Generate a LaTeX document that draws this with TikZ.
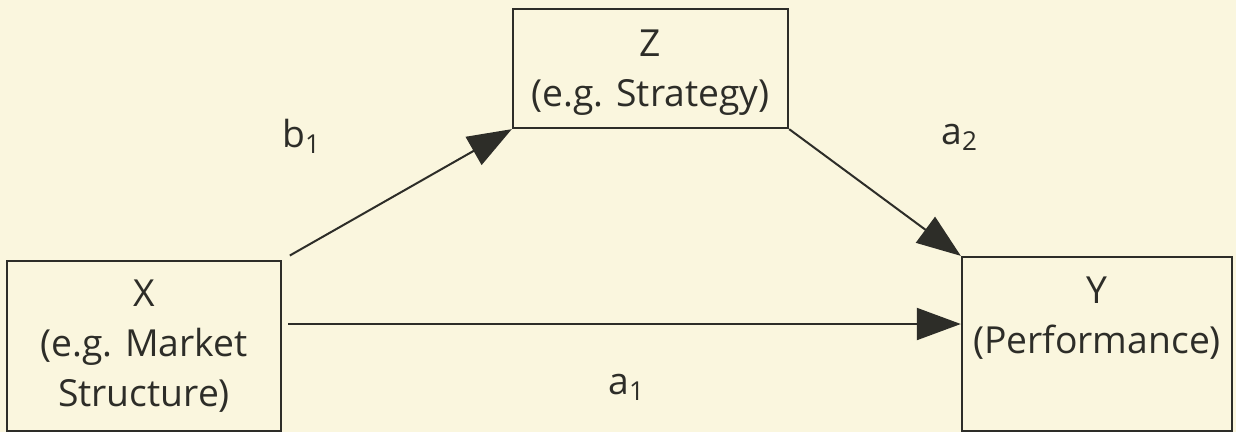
\documentclass[tikz,border=0pt]{standalone}
\usepackage{fontspec}
\setmainfont{Open Sans}
\usepackage{tikz}
\usepackage{xcolor}
\usetikzlibrary{arrows.meta, positioning, calc}
\definecolor{cPaper}{RGB}{250,246,222}
\definecolor{cInk}{RGB}{45,45,40}
\tikzset{
	varbox/.style ={rectangle, draw=cInk, line width=0.022cm, align=center, text=cInk, inner sep=0pt},
	pathlbl/.style={text=cInk, inner sep=0pt},
	effect/.style ={-{Triangle[length=0.44cm, width=0.32cm]}, line width=0.02cm, draw=cInk},
}
\begin{document}
\begin{tikzpicture}[x=0.01cm, y=-0.01cm, font=\fontsize{10.6}{14.2}\selectfont]
	\fill[cPaper] (0,0) rectangle (1236,432);
	\useasboundingbox (0,0) rectangle (1236,432);
	% variables
	\node[varbox, minimum width=2.74cm, minimum height=1.70cm] (X) at (144,346) {X\\(e.g. Market\\Structure)};
	\node[varbox, minimum width=2.75cm, minimum height=1.19cm, text depth=0pt] (Z) at (650.5,68.5) {Z\\(e.g. Strategy)};
	\node[varbox, minimum width=2.70cm, minimum height=1.74cm, text depth=0.57cm] (Y) at (1097,344) {Y\\(Performance)};
	% paths
	\draw[effect, shorten <=2.5pt] (X.north east) -- (Z.south west);
	\draw[effect] (Z.south east) -- (Y.north west);
	\draw[effect, shorten <=1.7pt] ($(X.east)+(0,-22)$) -- ($(X.east -| Y.west)+(0,-22)$);
	\node[pathlbl] (b1) at (302,136) {b\textsubscript{1}};
	\node[pathlbl] (a2) at (960,137) {a\textsubscript{2}};
	\node[pathlbl] (a1) at (627,387) {a\textsubscript{1}};
\end{tikzpicture}
\end{document}
